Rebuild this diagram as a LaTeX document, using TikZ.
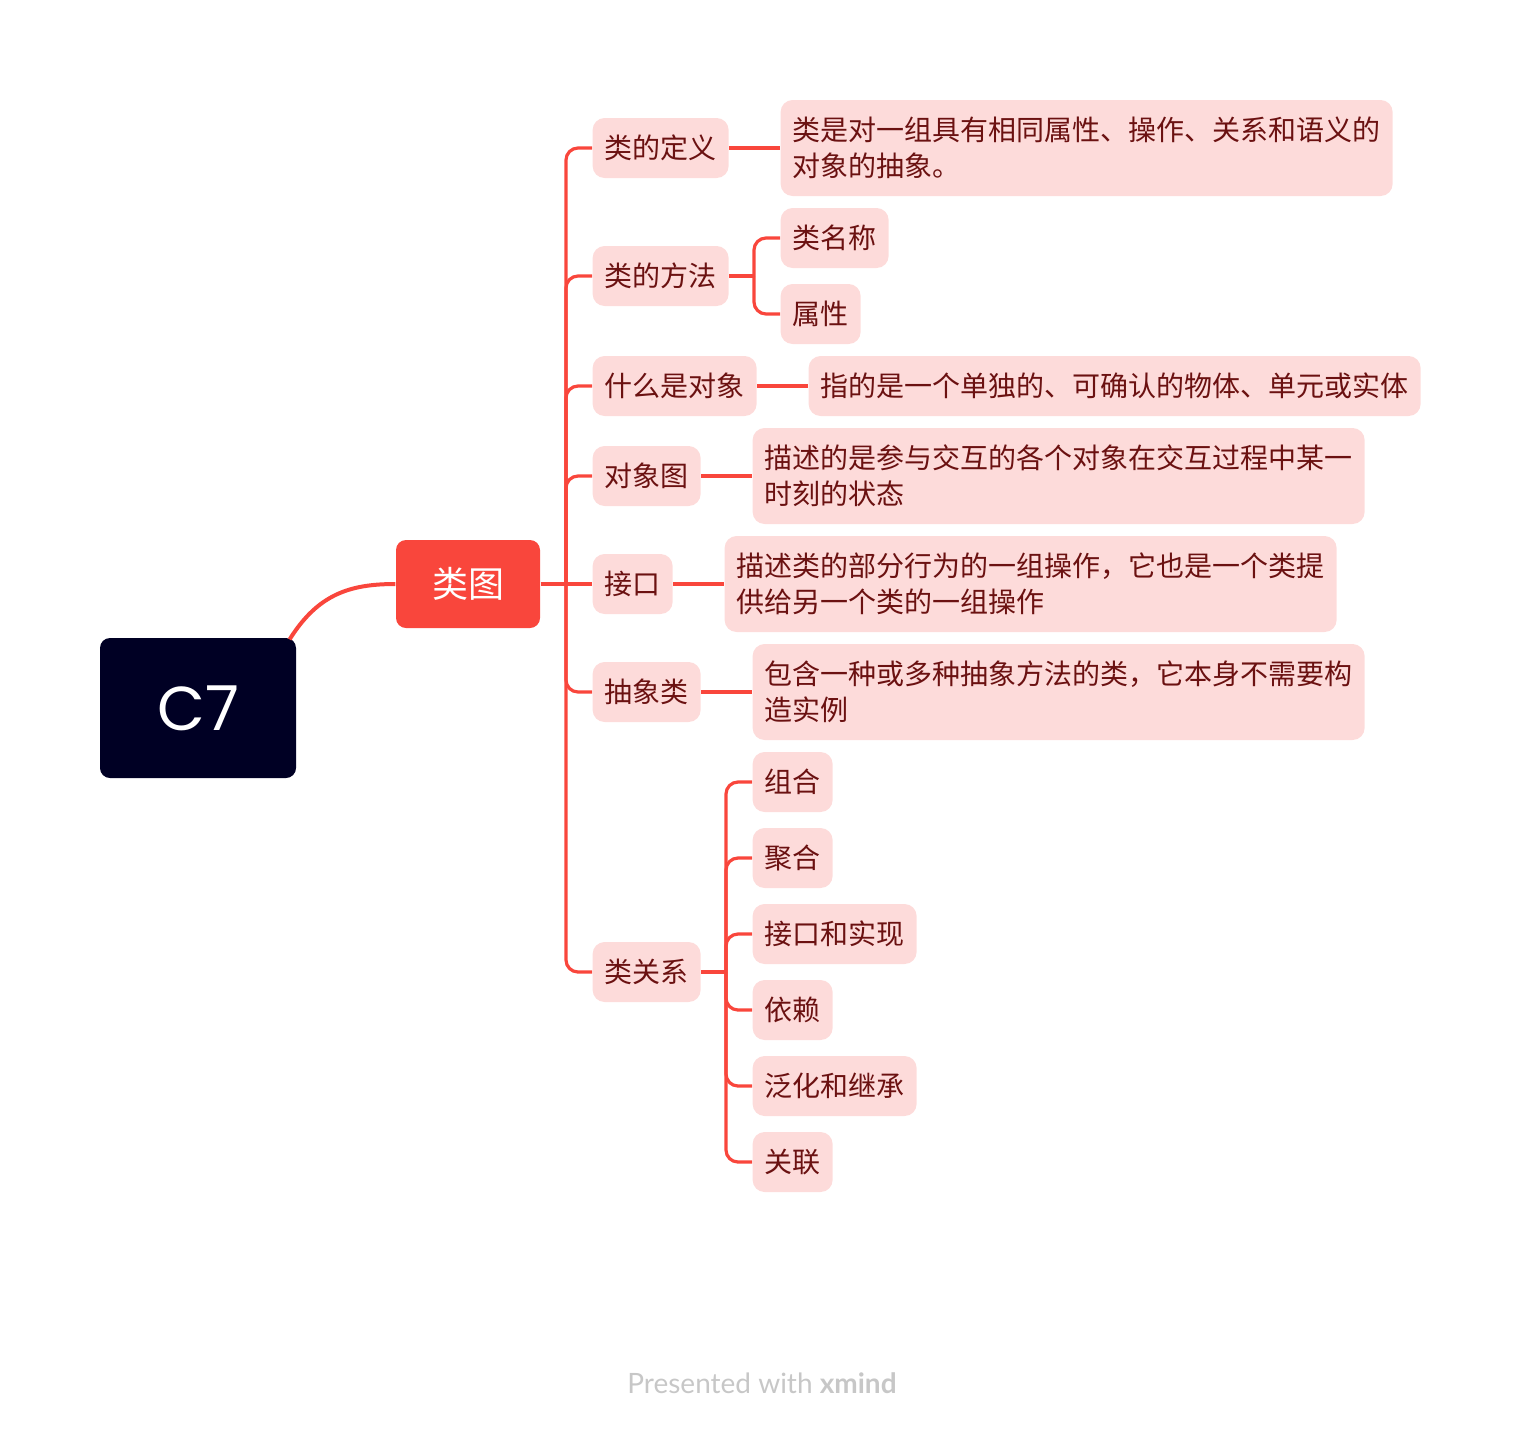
\documentclass[tikz,border=0pt]{standalone}
\usepackage{fontspec}
\setmainfont{Noto Sans CJK SC}
\newfontfamily\latinfont{Poppins}
\newfontfamily\footfont{Lato}
\usetikzlibrary{positioning,calc}
\definecolor{branchred}{HTML}{F9463C}
\definecolor{navy}{HTML}{000024}
\definecolor{topicpink}{HTML}{FDDBDA}
\definecolor{topictext}{HTML}{6B1111}

\begin{document}
\begin{tikzpicture}[x=0.5pt, y=-0.5pt, semithick]
\tikzstyle{central}=[fill=navy,text=white,rounded corners=5pt,minimum width=98pt,minimum height=70pt,font=\latinfont\fontsize{31}{36}\selectfont]
\tikzstyle{mainnode}=[fill=branchred,text=white,rounded corners=5pt,minimum width=72pt,minimum height=44pt,font=\fontsize{18}{22}\selectfont]
\tikzstyle{subnode}=[fill=topicpink,text=topictext,rounded corners=6pt,anchor=west,minimum height=30pt,inner xsep=6pt,font=\fontsize{14}{18}\selectfont]
\tikzstyle{descnode}=[subnode,text width=294pt,align=left,minimum height=48pt]
\tikzstyle{link}=[draw=branchred,line width=1.6pt,rounded corners=6pt]
\useasboundingbox (0,0) rectangle (1520,1432);
\node[central]  (c7)    at (198,708)   {C7};
\node[mainnode] (root)  at (468,584)   {类图};
\node[subnode]  (def)   at (592,148)   {类的定义};
\node[subnode]  (meth)  at (592,276)   {类的方法};
\node[subnode]  (obj)   at (592,386)   {什么是对象};
\node[subnode]  (odiag) at (592,476)   {对象图};
\node[subnode]  (iface) at (592,584)   {接口};
\node[subnode]  (abst)  at (592,692)   {抽象类};
\node[subnode]  (rel)   at (592,972)   {类关系};
\node[descnode] (defd)  at (780,148)   {类是对一组具有相同属性、操作、关系和语义的\\对象的抽象。};
\node[subnode]  (mname) at (780,238)   {类名称};
\node[subnode]  (mattr) at (780,314)   {属性};
\node[subnode]  (objd)  at (808,386)   {指的是一个单独的、可确认的物体、单元或实体};
\node[descnode] (odiagd) at (752,476)  {描述的是参与交互的各个对象在交互过程中某一\\时刻的状态};
\node[descnode] (ifaced) at (724,584)  {描述类的部分行为的一组操作，它也是一个类提\\供给另一个类的一组操作};
\node[descnode] (abstd) at (752,692)   {包含一种或多种抽象方法的类，它本身不需要构\\造实例};
\foreach \name/\txt [count=\i from 0] in {comp/组合,aggr/聚合,impl/接口和实现,dep/依赖,gen/泛化和继承,assoc/关联}
  \node[subnode] (\name) at (752,782+76*\i) {\txt};
\coordinate (hub) at (566,584);
\coordinate (mhub) at (754,276);
\coordinate (rhub) at (726,972);
\draw[branchred,line width=2pt] ($(c7.north east)+(-7,2)$) .. controls (318,594) and (350,584) .. (root.west);
\draw[link] (root.east) -- (iface.west);
\foreach \n in {def,meth,obj,odiag,abst,rel}
  \draw[link] (hub) |- (\n.west);
\draw[link] (def.east) -- (defd.west);
\draw[link] (meth.east) -- (mhub);
\foreach \n in {mname,mattr}
  \draw[link] (mhub) |- (\n.west);
\draw[link] (obj.east) -- (objd.west);
\draw[link] (odiag.east) -- (odiagd.west);
\draw[link] (iface.east) -- (ifaced.west);
\draw[link] (abst.east) -- (abstd.west);
\draw[link] (rel.east) -- (rhub);
\foreach \n in {comp,aggr,impl,dep,gen,assoc}
  \draw[link] (rhub) |- (\n.west);
\node[text=black!22,font=\footfont\fontsize{14}{17}\selectfont] (foot) at (762,1383) {Presented with \textbf{xmind}};
\end{tikzpicture}
\end{document}
